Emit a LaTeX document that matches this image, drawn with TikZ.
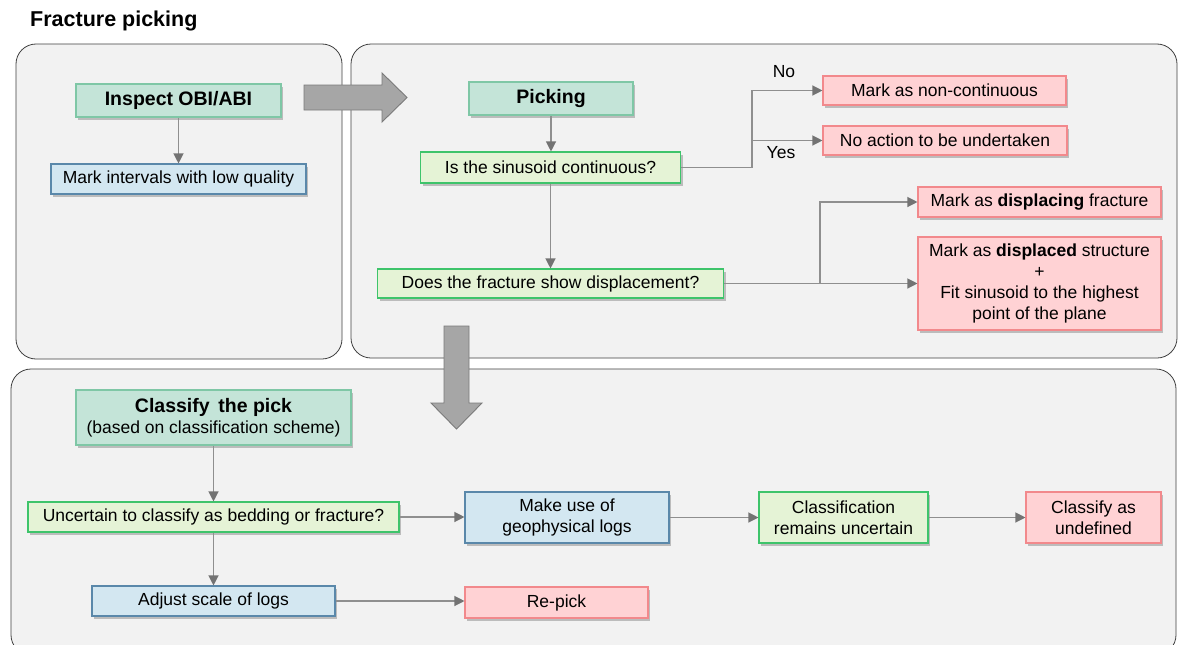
\documentclass[tikz,border=0pt]{standalone}
\usepackage{fontspec}
\setmainfont{Liberation Sans}
\usetikzlibrary{arrows.meta,shadows}
\definecolor{panelfill}{HTML}{F2F2F2}
\definecolor{paneldraw}{HTML}{404040}
\definecolor{tealfill}{HTML}{C4E4D8}
\definecolor{tealdraw}{HTML}{7FC7A6}
\definecolor{grnfill}{HTML}{E5F3D6}
\definecolor{grndraw}{HTML}{3EC46B}
\definecolor{bluefill}{HTML}{D3E7F1}
\definecolor{bluedraw}{HTML}{5A88AA}
\definecolor{pinkfill}{HTML}{FFD2D4}
\definecolor{pinkdraw}{HTML}{F2898C}
\definecolor{conngray}{HTML}{8F8F8F}
\definecolor{tipgray}{HTML}{737373}
\definecolor{bigfill}{HTML}{A6A6A6}
\definecolor{bigdraw}{HTML}{7A7A7A}
\tikzset{
  panel/.style={rounded corners=20pt, fill=panelfill, draw=paneldraw, line width=0.8pt},
  boxbase/.style={rectangle, inner sep=0pt, line width=1.1pt, align=center,
    font=\fontsize{17.5}{21}\selectfont,
    drop shadow={shadow xshift=2pt, shadow yshift=-2.5pt, opacity=0.22, fill=black}},
  tealbox/.style={boxbase, fill=tealfill, draw=tealdraw},
  grnbox/.style={boxbase, fill=grnfill, draw=grndraw},
  bluebox/.style={boxbase, fill=bluefill, draw=bluedraw},
  pinkbox/.style={boxbase, fill=pinkfill, draw=pinkdraw},
  headfont/.style={font=\fontsize{19.5}{23}\selectfont\bfseries},
  conn/.style={draw=conngray, line width=1.2pt,
    -{Triangle[length=10pt,width=10pt,color=tipgray]}},
  line/.style={draw=conngray, line width=1.2pt},
  bigarrow/.style={fill=bigfill, draw=bigdraw, line width=0.9pt},
  lbl/.style={font=\fontsize{17.5}{21}\selectfont, inner sep=0pt}
}
\begin{document}
\begin{tikzpicture}[x=1pt,y=-1pt]
\clip (0,0) rectangle (1178,645);
\fill[white] (0,0) rectangle (1178,645);

% panels
\draw[panel] (16,44) rectangle (342,359);
\draw[panel] (351,44) rectangle (1177,358);
\draw[panel] (11,369) rectangle (1176,655);

% title
\node[anchor=west, inner sep=0pt, font=\fontsize{21.5}{25}\selectfont\bfseries] (title) at (30,21) {Fracture picking};

% big arrows
\draw[bigarrow] (304,85) -- (382,85) -- (382,73) -- (407,97.5) -- (382,122) -- (382,110) -- (304,110) -- cycle;
\draw[bigarrow] (444,326) -- (469,326) -- (469,403) -- (482,403) -- (456.5,429) -- (431,403) -- (444,403) -- cycle;

% panel 1
\node[tealbox, headfont, minimum width=205pt, minimum height=33pt] (insp) at (178.5,100.5) {Inspect OBI/ABI};
\node[bluebox, minimum width=255pt, minimum height=30pt] (markint) at (178.5,179) {Mark intervals with low quality};

% panel 2
\node[tealbox, headfont, minimum width=164pt, minimum height=33pt] (pick) at (551,98.5) {Picking};
\node[grnbox, minimum width=260pt, minimum height=31pt] (sinus) at (550.5,167.5) {Is the sinusoid continuous?};
\node[grnbox, minimum width=346pt, minimum height=29pt] (disp) at (550.5,283.5) {Does the fracture show displacement?};
\node[pinkbox, minimum width=243pt, minimum height=29pt] (noncont) at (944.5,90.5) {Mark as non-continuous};
\node[pinkbox, minimum width=244pt, minimum height=29pt] (noact) at (945,140.5) {No action to be undertaken};
\node[pinkbox, minimum width=243pt, minimum height=30pt] (displacing) at (1039.5,202) {Mark as \textbf{displacing} fracture};
\node[pinkbox, minimum width=243pt, minimum height=93pt] (displaced) at (1039.5,283.5) {Mark as \textbf{displaced} structure\\+\\Fit sinusoid to the highest\\point of the plane};

% panel 3
\node[tealbox, minimum width=275pt, minimum height=55pt] (classify) at (213.5,417.5) {{\fontsize{19.5}{22}\selectfont\bfseries Classify\, the pick}\\(based on classification scheme)};
\node[grnbox, minimum width=371pt, minimum height=30pt] (uncertain) at (213.5,517) {Uncertain to classify as bedding or fracture?};
\node[bluebox, minimum width=243pt, minimum height=30pt] (adjust) at (213.5,601) {Adjust scale of logs};
\node[bluebox, minimum width=204pt, minimum height=51pt] (makeuse) at (567,517.5) {Make use of\\geophysical logs};
\node[grnbox, minimum width=169pt, minimum height=51pt] (classrem) at (843.5,517.5) {Classification\\remains uncertain};
\node[pinkbox, minimum width=135pt, minimum height=51pt] (undef) at (1093.5,517.5) {Classify as\\undefined};
\node[pinkbox, minimum width=183pt, minimum height=31pt] (repick) at (556.5,602.5) {Re-pick};

% connectors panel 1
\draw[conn] (insp) -- (markint);

% connectors panel 2
\draw[conn] (pick.south) -- (pick.south |- sinus.north);
\draw[conn] (sinus) -- (disp);
\coordinate (j1) at (752,167.5);
\draw[line] (sinus.east) -- (j1);
\draw[conn] (j1) |- (noncont.west);
\draw[conn] (j1) |- (noact.west);
\node[lbl] (nolbl) at (784,72) {No};
\node[lbl] (yeslbl) at (781,153) {Yes};
\coordinate (j2) at (820,283.5);
\draw[line] (disp.east) -- (j2);
\draw[conn] (j2) -- (displaced.west);
\draw[conn] (j2) |- (displacing.west);

% connectors panel 3
\draw[conn] (classify) -- (uncertain);
\draw[conn] (uncertain) -- (adjust);
\draw[conn] (uncertain.east) -- (uncertain.east -| makeuse.west);
\draw[conn] (makeuse) -- (classrem);
\draw[conn] (classrem) -- (undef);
\draw[conn] (adjust.east) -- (adjust.east -| repick.west);
\end{tikzpicture}
\end{document}
